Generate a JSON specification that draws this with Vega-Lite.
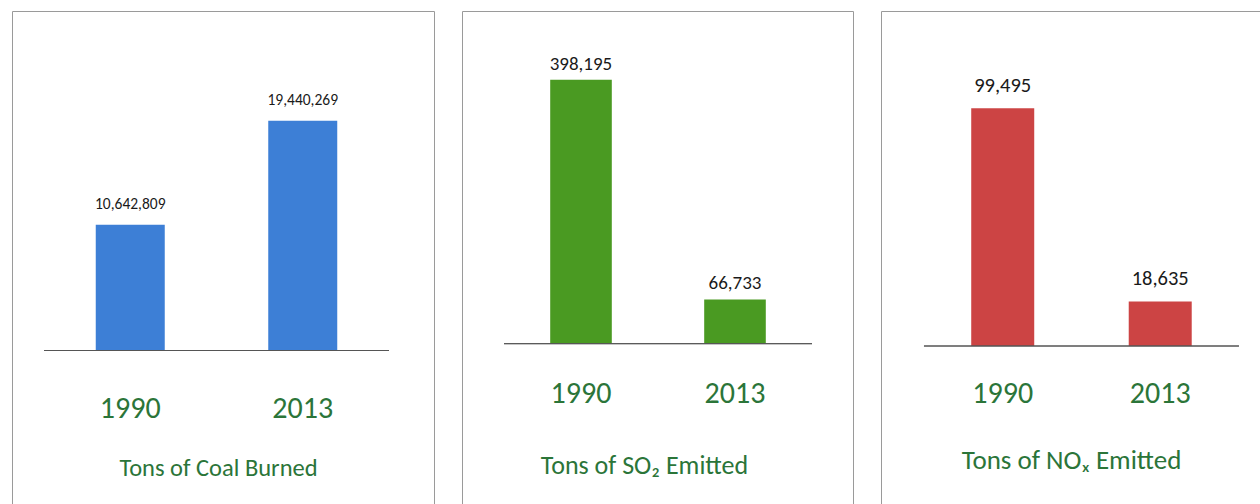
{
  "$schema": "https://vega.github.io/schema/vega-lite/v6.json",
  "padding": {"left": 11, "top": 10, "right": 0, "bottom": 0},
  "spacing": 26,
  "datasets": {
    "coal": [
      {"year": "1990", "tons": 10642809},
      {"year": "2013", "tons": 19440269}
    ],
    "so2": [
      {"year": "1990", "tons": 398195},
      {"year": "2013", "tons": 66733}
    ],
    "nox": [
      {"year": "1990", "tons": 99495},
      {"year": "2013", "tons": 18635}
    ]
  },
  "hconcat": [
    {
      "width": 422,
      "height": 493,
      "data": {"name": "coal"},
      "encoding": {
        "x": {
          "field": "year",
          "type": "nominal",
          "scale": {"paddingInner": 0, "paddingOuter": 0.2232, "align": 0.4156},
          "axis": {
            "offset": -153.5,
            "domain": false,
            "ticks": false,
            "labelAngle": 0,
            "labelPadding": 66.5,
            "labelBaseline": "alphabetic",
            "labelFontSize": 30,
            "title": "Tons of Coal Burned",
            "titleX": 206,
            "titleY": 124.5,
            "titleFontSize": 24.5
          }
        }
      },
      "layer": [
        {
          "mark": {"type": "bar", "width": {"band": 0.4}, "color": "#3d7fd6"},
          "encoding": {
            "y": {
              "field": "tons",
              "type": "quantitative",
              "scale": {"domain": [-12986100, 28721700], "nice": false, "zero": false},
              "axis": null
            }
          }
        },
        {
          "mark": {"type": "text", "baseline": "alphabetic", "dy": -16, "fontSize": 15.5, "color": "#1a1a1a", "font": "Carlito, Lato, sans-serif"},
          "encoding": {
            "y": {"field": "tons", "type": "quantitative"},
            "text": {"field": "tons", "type": "quantitative", "format": ","}
          }
        },
        {
          "mark": {"type": "rule", "color": "#555555", "strokeWidth": 1},
          "encoding": {
            "x": {"datum": "1990", "bandPosition": 0},
            "x2": {"datum": "2013", "bandPosition": 1},
            "y": {"datum": 0}
          }
        }
      ]
    },
    {
      "width": 391,
      "height": 493,
      "data": {"name": "so2"},
      "encoding": {
        "x": {
          "field": "year",
          "type": "nominal",
          "scale": {"paddingInner": 0, "paddingOuter": 0.2695, "align": 0.506},
          "axis": {
            "offset": -160.3,
            "domain": false,
            "ticks": false,
            "labelAngle": 0,
            "labelPadding": 59,
            "labelBaseline": "alphabetic",
            "labelFontSize": 30,
            "title": "Tons of SO₂ Emitted",
            "titleX": 182,
            "titleY": 129.3,
            "titleFontSize": 26
          }
        }
      },
      "layer": [
        {
          "mark": {"type": "bar", "width": {"band": 0.4}, "color": "#4a9a22"},
          "encoding": {
            "y": {
              "field": "tons",
              "type": "quantitative",
              "scale": {"domain": [-241732, 501712], "nice": false, "zero": false},
              "axis": null
            }
          }
        },
        {
          "mark": {"type": "text", "baseline": "alphabetic", "dy": -10, "fontSize": 19, "color": "#1a1a1a", "font": "Carlito, Lato, sans-serif"},
          "encoding": {
            "y": {"field": "tons", "type": "quantitative"},
            "text": {"field": "tons", "type": "quantitative", "format": ","}
          }
        },
        {
          "mark": {"type": "rule", "color": "#555555", "strokeWidth": 1},
          "encoding": {
            "x": {"datum": "1990", "bandPosition": 0},
            "x2": {"datum": "2013", "bandPosition": 1},
            "y": {"datum": 0}
          }
        }
      ]
    },
    {
      "width": 383,
      "height": 493,
      "data": {"name": "nox"},
      "encoding": {
        "x": {
          "field": "year",
          "type": "nominal",
          "scale": {"paddingInner": 0, "paddingOuter": 0.2159, "align": 0.632},
          "axis": {
            "offset": -158,
            "domain": false,
            "ticks": false,
            "labelAngle": 0,
            "labelPadding": 56.7,
            "labelBaseline": "alphabetic",
            "labelFontSize": 30,
            "title": "Tons of NOₓ Emitted",
            "titleX": 190,
            "titleY": 122,
            "titleFontSize": 27
          }
        }
      },
      "layer": [
        {
          "mark": {"type": "bar", "width": {"band": 0.4}, "color": "#cc4444"},
          "encoding": {
            "y": {
              "field": "tons",
              "type": "quantitative",
              "scale": {"domain": [-66123, 140198], "nice": false, "zero": false},
              "axis": null
            }
          }
        },
        {
          "mark": {"type": "text", "baseline": "alphabetic", "dy": -16, "fontSize": 20.5, "color": "#1a1a1a", "font": "Carlito, Lato, sans-serif"},
          "encoding": {
            "y": {"field": "tons", "type": "quantitative"},
            "text": {"field": "tons", "type": "quantitative", "format": ","}
          }
        },
        {
          "mark": {"type": "rule", "color": "#555555", "strokeWidth": 1},
          "encoding": {
            "x": {"datum": "1990", "bandPosition": 0},
            "x2": {"datum": "2013", "bandPosition": 1},
            "y": {"datum": 0}
          }
        }
      ]
    }
  ],
  "config": {
    "view": {"stroke": "#9a9a9a", "strokeWidth": 1},
    "axis": {
      "labelFont": "Carlito, Lato, sans-serif",
      "labelColor": "#2b7539",
      "titleFont": "Carlito, Lato, sans-serif",
      "titleColor": "#2b7539",
      "titleFontWeight": "normal",
      "titleBaseline": "alphabetic",
      "titleAnchor": "middle",
      "labelFlush": false,
      "labelOverlap": false
    }
  }
}
